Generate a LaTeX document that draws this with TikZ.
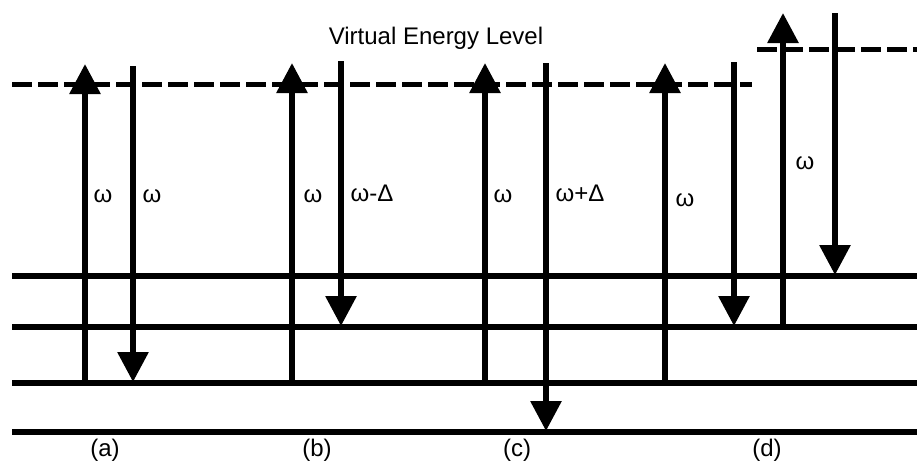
\documentclass[tikz,border=0pt]{standalone}
\usepackage{fontspec}
\setmainfont{Liberation Sans}
\usetikzlibrary{arrows.meta}

\begin{document}
\begin{tikzpicture}[x=0.5pt,y=-0.5pt,>={Triangle[length=15pt,width=15pt]},
  level/.style={line width=2.8pt},
  virtual/.style={line width=2.5pt,dash pattern=on 10pt off 3pt},
  trans/.style={->,line width=3pt},
  lbl/.style={inner sep=0pt,font=\fontsize{12}{14}\selectfont}]
  \useasboundingbox (0,0) rectangle (917,466);
  % energy levels
  \draw[level] (12,276) -- (917,276);
  \draw[level] (12,327) -- (917,327);
  \draw[level] (12,383) -- (917,383);
  \draw[level] (12,432) -- (917,432);
  \draw[virtual] (12,84) -- (752,84);
  \draw[virtual] (757,49) -- (917,49);
  \node[lbl] (vel) at (436,38) {Virtual Energy Level};
  % (a)
  \draw[trans] (85,383) -- (85,64);
  \draw[trans] (133,66) -- (133,382);
  \node[lbl] (wa1) at (103,196) {ω};
  \node[lbl] (wa2) at (152,196) {ω};
  \node[lbl] (a) at (105,450) {(a)};
  % (b)
  \draw[trans] (292,383) -- (292,63);
  \draw[trans] (341,61) -- (341,326);
  \node[lbl] (wb1) at (313,196) {ω};
  \node[lbl] (wb2) at (372,193) {ω-Δ};
  \node[lbl] (b) at (317,450) {(b)};
  % (c)
  \draw[trans] (485,383) -- (485,63);
  \draw[trans] (546,63) -- (546,431);
  \node[lbl] (wc1) at (503,196) {ω};
  \node[lbl] (wc2) at (580,193) {ω+Δ};
  \node[lbl] (c) at (517,450) {(c)};
  % (d)
  \draw[trans] (665,383) -- (665,63);
  \draw[trans] (734,62) -- (734,326);
  \draw[trans] (783,327) -- (783,13);
  \draw[trans] (835,13) -- (835,275);
  \node[lbl] (wd1) at (685,200) {ω};
  \node[lbl] (wd2) at (805,163) {ω};
  \node[lbl] (d) at (767,450) {(d)};
\end{tikzpicture}
\end{document}
